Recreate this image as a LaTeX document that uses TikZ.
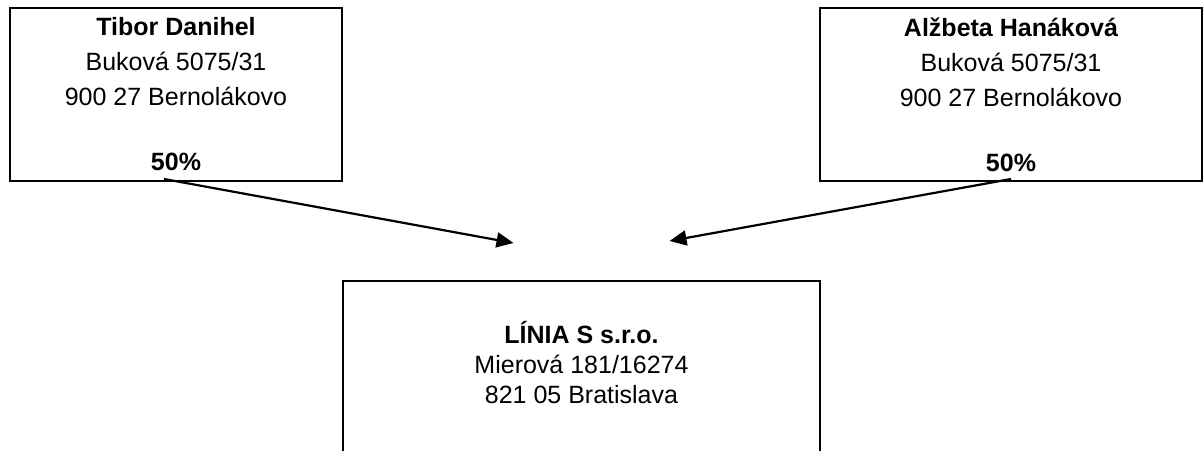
\documentclass[tikz,border=0pt]{standalone}
\usepackage{fontspec}
\setmainfont{Liberation Sans}
\usetikzlibrary{arrows.meta,calc}

\begin{document}
\begin{tikzpicture}[
    x=1pt, y=-1pt,
    box/.style={rectangle, draw, line width=2pt, anchor=north west, inner sep=0pt, align=center, font=\fontsize{25}{35}\selectfont},
    arrow/.style={-{Triangle[length=17pt, width=15pt]}, line width=2.2pt}
]
\useasboundingbox (0,0) rectangle (1204,450);
\clip (0,0) rectangle (1204,450);

% Owners on top
\node[box, minimum width=332pt, minimum height=173pt] (tibor) at (9,7)
    {\textbf{Tibor Danihel}\\Buková 5075/31\\900 27 Bernolákovo\\[30pt]\textbf{50\%}};
\node[box, minimum width=382pt, minimum height=173pt] (alzbeta) at (819,7)
    {\textbf{Alžbeta Hanáková}\\Buková 5075/31\\900 27 Bernolákovo\\[30pt]\textbf{50\%}};

% Company below, cut off at the bottom
\node[box, minimum width=477pt, minimum height=172pt, text depth=9pt, font=\fontsize{25}{30}\selectfont] (linia) at (342,280)
    {\textbf{LÍNIA S s.r.o.}\\Mierová 181/16274\\821 05 Bratislava};

% Arrow ends above the company box
\coordinate (toleft) at ($(linia.north)+(-68,-37)$);
\coordinate (toright) at ($(linia.north)+(88,-39)$);

% Shares
\draw[arrow] ([xshift=-12pt, yshift=3pt]tibor.south) -- (toleft);
\draw[arrow] ([yshift=3pt]alzbeta.south) -- (toright);

\end{tikzpicture}
\end{document}
